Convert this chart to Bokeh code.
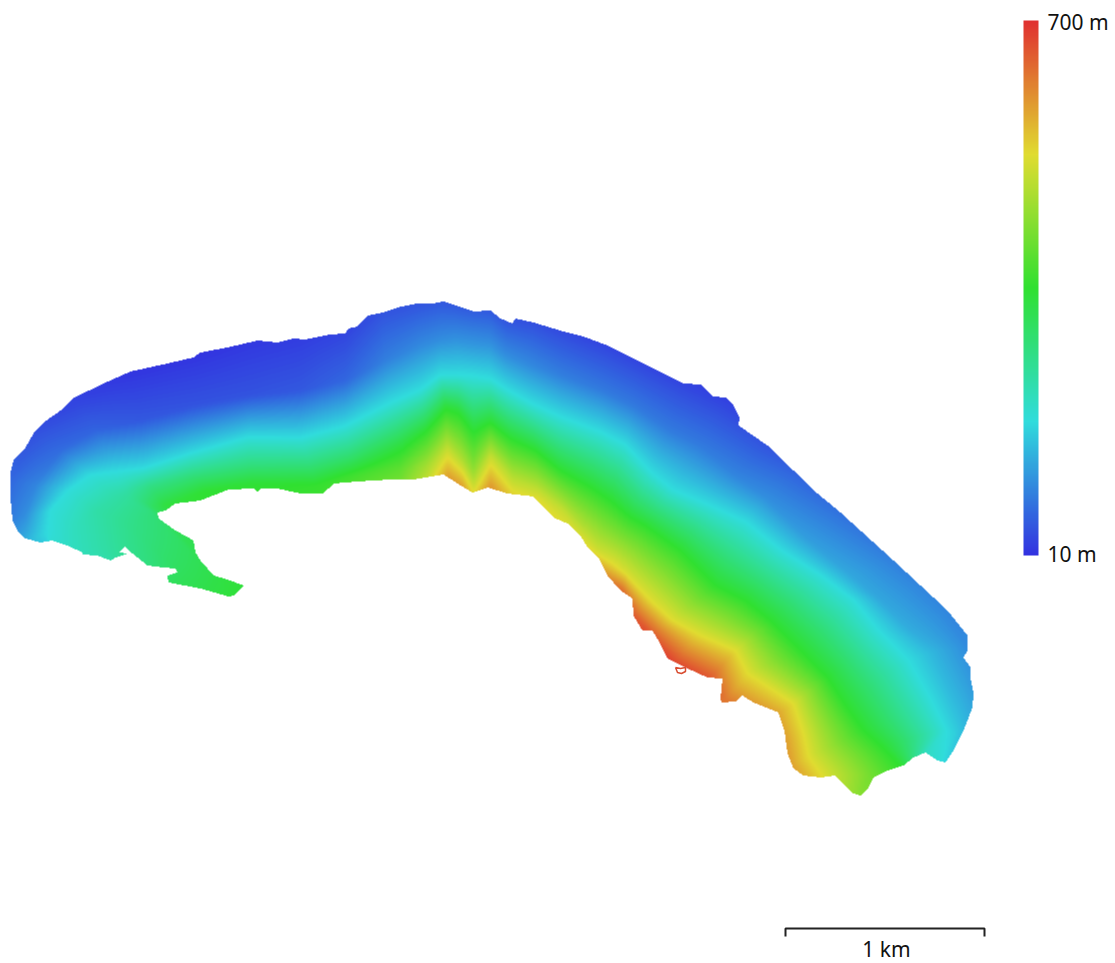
import numpy as np
from bokeh.plotting import figure
from bokeh.models import LinearColorMapper, ColorBar, FixedTicker, Range1d
from bokeh.core.properties import value
from bokeh.embed import file_html
from bokeh.resources import INLINE

# legend anchors: blue, cyan, green, yellow, red
anchor_colors = [(50, 50, 224), (48, 220, 220), (48, 224, 48), (224, 220, 48), (224, 48, 48)]
elev_min, elev_max = 10, 700
elev_labels = ["700 m", "10 m"]
scale_label = "1 km"

# island coast
coast_x = [10,13,25,33,43,63,72,103,130,167,193,200,227,257,277,293,305,330,345,348,357,367,383,397,417,433,443,453,473,490,500,512,515,533,563,583,607,637,663,683,700,713,725,733,739,738,767,793,817,840,893,920,947,967,967,963,970,970,973,972,963,953,945,937,925,913,903,887,873,868,860,853,845,835,820,803,793,787,784,778,753,742,735,721,720,722,707,687,667,658,652,642,633,632,620,607,598,587,580,567,553,547,533,507,487,472,457,443,413,390,357,333,328,322,300,277,260,257,253,228,200,175,165,157,158,175,193,195,200,213,227,243,233,228,200,168,167,177,175,163,147,132,125,118,128,115,110,97,82,82,67,52,40,25,17,12,10]
coast_y = [472,460,447,433,422,408,398,383,371,363,357,352,347,340,342,338,339,334,333,328,326,315,312,307,303,303,301,304,311,310,318,323,318,322,331,336,345,360,373,383,384,396,397,405,417,425,445,470,493,512,560,585,610,635,650,657,667,677,693,707,730,750,762,760,752,757,765,770,777,787,795,793,785,775,777,775,768,753,730,712,702,695,701,702,698,678,677,668,658,640,630,630,615,598,590,575,557,547,535,523,517,510,496,493,487,492,483,474,479,479,481,483,488,493,493,488,488,491,488,489,500,503,510,512,518,530,540,552,560,575,579,585,595,596,588,582,575,572,568,567,565,553,546,552,553,557,560,555,554,552,545,540,542,538,530,520,497]

# small ring on the southern shore
ring_x = [675, 680, 685, 685, 681, 677, 675]
ring_y = [667, 668, 667, 671, 673, 672, 667]

# cross-sections over the island: each list gives (x, y, metres) per section
top_coast = [(20,545,130),(11,515,85),(10,480,65),(35,430,40),(75,400,28),(130,373,15),(195,352,12),(250,343,18),(300,338,22),(345,332,30),(383,312,45),(417,303,45),(440,302,50),(453,304,50),(473,311,55),(490,310,50),(507,320,45),(533,322,40),(563,331,35),(607,345,30),(637,360,30),(683,383,30),(725,398,25),(767,445,45),(793,470,60),(840,512,75),(893,560,90),(920,585,95),(947,610,95),(967,645,100),(973,693,120),(963,730,150),(945,762,175)]
mid_blue = [(28,540,145),(25,515,105),(35,485,95),(60,450,70),(95,430,62),(140,420,50),(195,405,45),(250,395,45),(300,390,50),(345,380,65),(385,360,90),(420,345,100),(440,340,105),(455,340,110),(472,345,115),(490,345,110),(505,355,105),(530,365,100),(560,375,90),(602,390,85),(632,405,85),(670,430,85),(700,445,85),(735,475,95),(765,497,105),(805,537,120),(850,575,130),(880,600,130),(910,630,135),(935,650,140),(950,695,150),(955,733,170),(940,758,190)]
cyan_line = [(48,532,185),(50,510,185),(68,490,185),(90,475,185),(115,470,180),(143,467,180),(190,452,180),(248,437,185),(300,438,185),(345,426,185),(390,403,185),(420,390,185),(440,375,185),(458,375,185),(472,378,190),(490,379,185),(507,390,185),(530,403,185),(560,417,185),(600,432,185),(625,445,185),(650,472,185),(672,490,185),(708,505,185),(745,522,185),(780,550,185),(820,575,185),(853,600,185),(877,630,185),(907,660,185),(930,700,185),(945,730,185),(925,752,210)]
green_line = [(70,543,210),(75,528,215),(95,510,235),(115,495,235),(125,490,235),(150,485,270),(192,475,280),(250,465,280),(310,465,285),(350,458,300),(400,442,330),(425,430,350),(445,405,340),(458,410,345),(473,425,335),(490,420,345),(510,437,350),(535,450,355),(560,470,355),(590,485,350),(610,500,355),(630,517,355),(645,525,355),(680,550,355),(715,585,355),(745,600,355),(770,620,355),(800,650,355),(827,677,355),(845,705,355),(863,730,355),(880,745,355),(897,760,350)]
yellow_line = [(90,553,225),(110,540,245),(130,525,265),(155,512,285),(150,507,300),(165,505,340),(205,490,350),(252,482,345),(315,485,360),(352,475,370),(400,468,400),(427,465,470),(447,448,500),(462,460,480),(473,470,450),(490,455,500),(512,475,480),(537,490,500),(563,510,500),(582,535,510),(597,550,510),(612,563,527),(625,572,520),(650,600,527),(672,620,527),(700,635,527),(735,650,527),(747,673,527),(793,703,527),(803,733,527),(810,755,520),(820,773,527),(870,775,420)]
bottom_coast = [(110,558,235),(135,565,265),(180,570,310),(235,595,345),(160,515,310),(175,510,345),(212,495,355),(255,490,355),(318,494,365),(355,482,385),(400,480,420),(428,478,500),(447,476,590),(462,487,590),(473,493,530),(490,487,600),(512,495,540),(538,500,530),(565,525,525),(578,540,530),(592,555,550),(603,575,610),(622,590,640),(633,615,660),(645,630,670),(672,665,690),(710,678,660),(725,700,630),(778,712,580),(785,740,590),(790,765,590),(810,778,560),(858,795,440)]

scale_x = [785, 785, 984, 984]
scale_y = [936, 928, 928, 936]

W, H = 1000, 520
Y0 = 290


def box(a):
    p_ = np.pad(a, 1, mode="edge")
    s = sum(p_[1 + i:p_.shape[0] - 1 + i, 1 + j:p_.shape[1] - 1 + j] for i in (-1, 0, 1) for j in (-1, 0, 1))
    return s / 9.0


def elevation_raster():
    sec = np.array([top_coast, mid_blue, cyan_line, green_line, yellow_line, bottom_coast], float).transpose(1, 0, 2)
    n, k, _ = sec.shape
    along = []
    for i in range(n - 1):
        t = np.linspace(0, 1, 48, endpoint=False)[:, None, None]
        along.append(sec[i] * (1 - t) + sec[i + 1] * t)
    along.append(sec[-1:])
    A = np.concatenate(along)
    across = []
    for j in range(k - 1):
        s = np.linspace(0, 1, 70, endpoint=False)[None, :, None]
        across.append(A[:, j:j + 1] * (1 - s) + A[:, j + 1:j + 2] * s)
    M = np.concatenate(across, axis=1).reshape(-1, 3)
    ix = np.floor(M[:, 0]).astype(int)
    iy = np.floor(M[:, 1] - Y0).astype(int)
    ok = (ix >= 0) & (ix < W) & (iy >= 0) & (iy < H)
    idx = ix[ok] + W * iy[ok]
    total = np.bincount(idx, M[ok, 2], W * H).reshape(H, W)
    count = np.bincount(idx, minlength=W * H).reshape(H, W).astype(float)
    for _ in range(400):
        if (count > 0).all():
            break
        sm_t, sm_c = box(total), box(count)
        hole = (count == 0) & (sm_c > 0)
        total[hole] = sm_t[hole] / sm_c[hole]
        count[hole] = 1.0
    z = total / np.maximum(count, 1e-9)
    z = box(box(box(z)))
    return z


def coast_mask():
    m = np.zeros((H, W), bool)
    xs = np.array(coast_x, float)
    ys = np.array(coast_y, float) - Y0
    xe, ye = np.roll(xs, -1), np.roll(ys, -1)
    for r in range(H):
        yc = r + 0.5
        hit = ((ys <= yc) & (ye > yc)) | ((ye <= yc) & (ys > yc))
        cx = np.sort(xs[hit] + (yc - ys[hit]) * (xe[hit] - xs[hit]) / (ye[hit] - ys[hit]))
        for a, b in zip(cx[0::2], cx[1::2]):
            m[r, max(int(np.ceil(a - 0.5)), 0):min(int(np.floor(b - 0.5)) + 1, W)] = True
    return m


elev = elevation_raster()
elev[~coast_mask()] = np.nan

palette = []
seg = 64
for c0, c1 in zip(anchor_colors[:-1], anchor_colors[1:]):
    for t in np.linspace(0, 1, seg, endpoint=False):
        palette.append("#%02x%02x%02x" % tuple(int(round(a + (b - a) * t)) for a, b in zip(c0, c1)))
palette.append("#%02x%02x%02x" % anchor_colors[-1])

mapper = LinearColorMapper(palette=palette, low=elev_min, high=elev_max, nan_color="white")

PW, PH = 1115, 963
p = figure(width=PW, height=PH, output_backend="svg", toolbar_location=None,
           x_range=Range1d(0, PW), y_range=Range1d(PH, 0),
           min_border=0, outline_line_color=None)
p.axis.visible = False
p.grid.visible = False

p.image(image=[elev], x=0, y=Y0, dw=W, dh=H, color_mapper=mapper)

p.line(ring_x, ring_y, line_color="#d84c30", line_width=1.5)

bar = ColorBar(color_mapper=mapper, ticker=FixedTicker(ticks=[]), width=15, height=535,
               location=(1023, PH - 555), padding=0, margin=0, major_tick_line_color=None,
               bar_line_color=None, background_fill_alpha=0, border_line_color=None,
               major_label_text_font_size="0px")
p.add_layout(bar, "center")

p.text(x=[1047, 1047], y=[21, 553], text=elev_labels, text_font=value("Noto Sans"), text_font_size="21px",
       text_color="#111111", text_baseline="middle")
p.line(scale_x, scale_y, line_color="#222222", line_width=2)
p.text(x=[886], y=[948], text=[scale_label], text_font=value("Noto Sans"), text_font_size="21px",
       text_color="#111111", text_align="center", text_baseline="middle")

open("out.html", "w").write(file_html(p, INLINE))
